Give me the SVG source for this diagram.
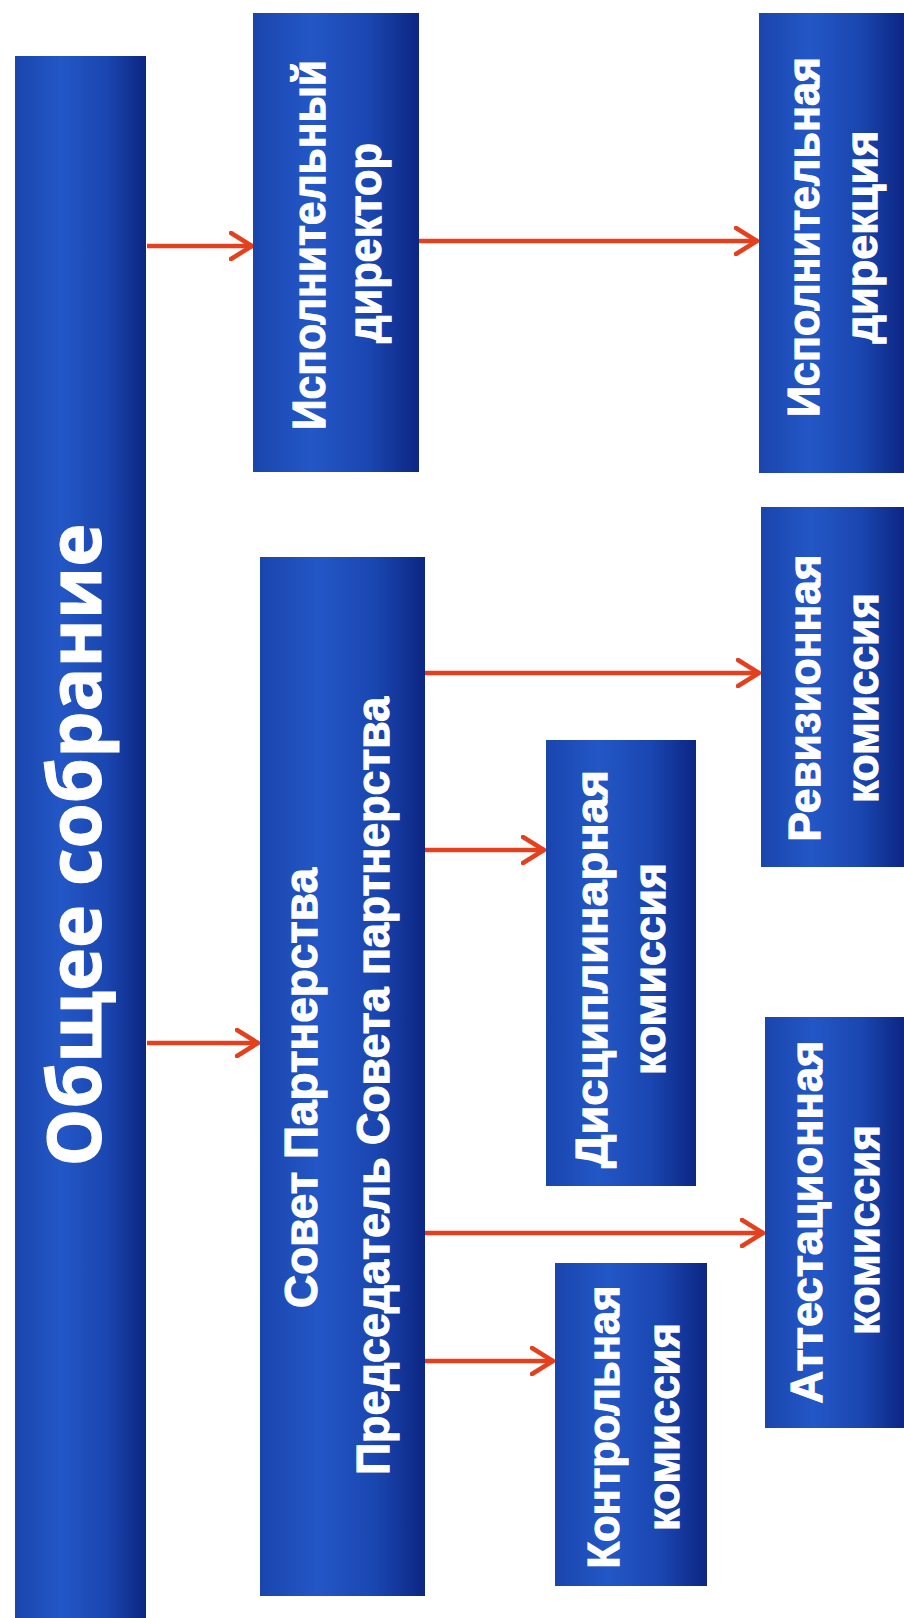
<svg xmlns="http://www.w3.org/2000/svg" width="904" height="1618" viewBox="0 0 904 1618">
  <defs>
    <linearGradient id="blue" x1="0" y1="0" x2="1" y2="0">
      <stop offset="0" stop-color="#1a45ad"/>
      <stop offset="0.35" stop-color="#2357c6"/>
      <stop offset="0.7" stop-color="#1a46b0"/>
      <stop offset="1" stop-color="#0c2683"/>
    </linearGradient>
    <marker id="arr" viewBox="0 0 26 30" refX="24" refY="15" markerWidth="26" markerHeight="30" markerUnits="userSpaceOnUse" orient="auto">
      <path d="M2,2 L23,15 L2,28" fill="none" stroke="#e5401d" stroke-width="4.5" stroke-linecap="round" stroke-linejoin="miter"/>
    </marker>
  </defs>
  <style>
    .box { fill: url(#blue); }
    .t { fill: #ffffff; stroke: #ffffff; stroke-width: 1.2px; font-family: "Liberation Sans", Arial, sans-serif; font-weight: bold; text-anchor: middle; }
    .big { font-family: "Open Sans", "Liberation Sans", sans-serif; font-size: 74px; stroke-width: 1px; }
    .m { font-size: 47px; }
    .s { font-size: 44px; }
    .c { fill: none; stroke: #e5401d; stroke-width: 4.5; marker-end: url(#arr); }
  </style>
  <rect width="904" height="1618" fill="#ffffff"/>

  <g id="connectors">
    <line class="c" x1="147" y1="246" x2="253" y2="246"/>
    <line class="c" x1="419" y1="241" x2="758" y2="241"/>
    <line class="c" x1="147" y1="1043" x2="259" y2="1043"/>
    <line class="c" x1="425" y1="673" x2="760" y2="673"/>
    <line class="c" x1="425" y1="850" x2="545" y2="850"/>
    <line class="c" x1="425" y1="1233" x2="764" y2="1233"/>
    <line class="c" x1="425" y1="1361" x2="554" y2="1361"/>
  </g>

  <g id="obshchee-sobranie">
    <rect class="box" x="15" y="56" width="131" height="1562"/>
    <text class="t big" transform="translate(101,845) rotate(-90)" textLength="643" lengthAdjust="spacingAndGlyphs">Общее  собрание</text>
  </g>

  <g id="ispolnitelny-direktor">
    <rect class="box" x="253" y="13" width="166" height="459"/>
    <text class="t m" transform="translate(325,245) rotate(-90)" textLength="370" lengthAdjust="spacingAndGlyphs">Исполнительный</text>
    <text class="t m" transform="translate(381,243) rotate(-90)" textLength="200" lengthAdjust="spacingAndGlyphs">директор</text>
  </g>

  <g id="sovet-partnerstva">
    <rect class="box" x="260" y="557" width="165" height="1039"/>
    <text class="t m" transform="translate(317,1088) rotate(-90)" textLength="440" lengthAdjust="spacingAndGlyphs">Совет  Партнерства</text>
    <text class="t m" transform="translate(389,1086) rotate(-90)" textLength="778" lengthAdjust="spacingAndGlyphs">Председатель  Совета  партнерства</text>
  </g>

  <g id="ispolnitelnaya-direktsiya">
    <rect class="box" x="759" y="13" width="145" height="460"/>
    <text class="t s" transform="translate(819,237) rotate(-90)" textLength="360" lengthAdjust="spacingAndGlyphs">Исполнительная</text>
    <text class="t s" transform="translate(877,237) rotate(-90)" textLength="213" lengthAdjust="spacingAndGlyphs">дирекция</text>
  </g>

  <g id="revizionnaya-komissiya">
    <rect class="box" x="761" y="507" width="143" height="360"/>
    <text class="t s" transform="translate(820,698) rotate(-90)" textLength="287" lengthAdjust="spacingAndGlyphs">Ревизионная</text>
    <text class="t s" transform="translate(878,698) rotate(-90)" textLength="210" lengthAdjust="spacingAndGlyphs">комиссия</text>
  </g>

  <g id="distsiplinarnaya-komissiya">
    <rect class="box" x="546" y="740" width="150" height="446"/>
    <text class="t s" transform="translate(607,969) rotate(-90)" textLength="398" lengthAdjust="spacingAndGlyphs">Дисциплинарная</text>
    <text class="t s" transform="translate(665,969) rotate(-90)" textLength="212" lengthAdjust="spacingAndGlyphs">комиссия</text>
  </g>

  <g id="attestatsionnaya-komissiya">
    <rect class="box" x="765" y="1017" width="139" height="411"/>
    <text class="t s" transform="translate(822,1222) rotate(-90)" textLength="363" lengthAdjust="spacingAndGlyphs">Аттестационная</text>
    <text class="t s" transform="translate(879,1230) rotate(-90)" textLength="210" lengthAdjust="spacingAndGlyphs">комиссия</text>
  </g>

  <g id="kontrolnaya-komissiya">
    <rect class="box" x="555" y="1263" width="152" height="323"/>
    <text class="t s" transform="translate(619,1427) rotate(-90)" textLength="283" lengthAdjust="spacingAndGlyphs">Контрольная</text>
    <text class="t s" transform="translate(679,1427) rotate(-90)" textLength="208" lengthAdjust="spacingAndGlyphs">комиссия</text>
  </g>
</svg>
